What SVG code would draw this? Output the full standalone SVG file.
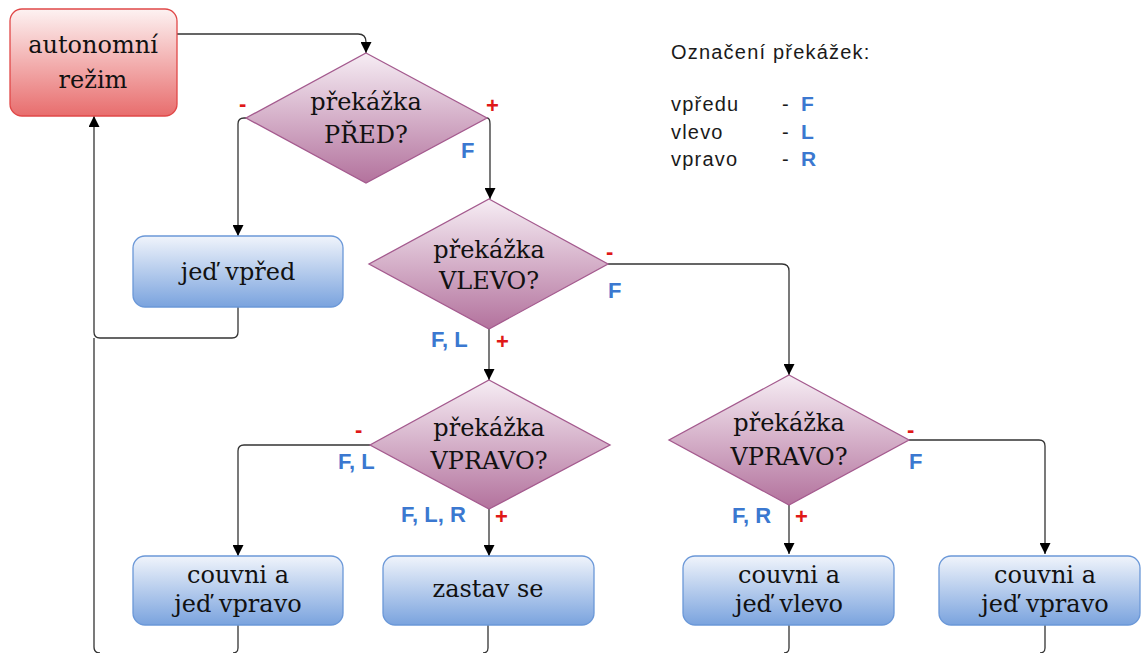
<svg xmlns="http://www.w3.org/2000/svg" width="1141" height="653" viewBox="0 0 1141 653">
<defs>
<linearGradient id="gRed" x1="0" y1="0" x2="0" y2="1">
<stop offset="0" stop-color="#fdf2f2"/><stop offset="1" stop-color="#e86d6d"/>
</linearGradient>
<linearGradient id="gBlue" x1="0" y1="0" x2="0" y2="1">
<stop offset="0" stop-color="#f0f4fb"/><stop offset="1" stop-color="#7aa3de"/>
</linearGradient>
<linearGradient id="gPurple" x1="0" y1="0" x2="0" y2="1">
<stop offset="0" stop-color="#f6edf4"/><stop offset="1" stop-color="#b3729d"/>
</linearGradient>
<marker id="arr" viewBox="0 0 10 10" refX="10" refY="5" markerWidth="11" markerHeight="11" markerUnits="userSpaceOnUse" orient="auto">
<path d="M0,0 L10,5 L0,10 Z" fill="#000"/>
</marker>
<style>
.red{fill:url(#gRed);stroke:#e04848;stroke-width:1.3}
.blue{fill:url(#gBlue);stroke:#6b98d8;stroke-width:1.3}
.dia{fill:url(#gPurple);stroke:#a45a8e;stroke-width:1.3}
.t{font-family:"DejaVu Serif","Liberation Serif",serif;font-size:24px;fill:#111;text-anchor:middle}
.c{fill:none;stroke:#333;stroke-width:1.3}
.ca{fill:none;stroke:#333;stroke-width:1.3;marker-end:url(#arr)}
.lb{font-family:"Liberation Sans",Arial,sans-serif;font-weight:bold;font-size:22px;fill:#3b78d0}
.pm{font-family:"Liberation Sans",Arial,sans-serif;font-weight:bold;font-size:22px;fill:#e01818}
.lg{font-family:"Liberation Sans",Arial,sans-serif;font-size:20px;fill:#1a1a1a;letter-spacing:1.2px}
.lgb{font-family:"Liberation Sans",Arial,sans-serif;font-weight:bold;font-size:21px;fill:#3b78d0}
</style>
</defs>
<rect width="1141" height="653" fill="#fff"/>

<g id="connectors">
<path class="ca" d="M177,34 H358 Q366,34 366,42 V53"/>
<path class="ca" d="M246,118 H244 Q238,118 238,124 V236"/>
<path class="ca" d="M487,118 Q490,118 490,124 V199"/>
<path class="ca" d="M238,307 V332 Q238,338 232,338 H100 Q94,338 94,332 V116"/>
<path class="c" d="M94,338 V647 Q94,653 100,653"/>
<path class="ca" d="M608,264 H782 Q789,264 789,271 V375"/>
<path class="ca" d="M489,329 V380"/>
<path class="ca" d="M370,445 H244 Q238,445 238,451 V556"/>
<path class="ca" d="M489,509 V556"/>
<path class="ca" d="M789,505 V554"/>
<path class="ca" d="M909,440 H1039 Q1045,440 1045,446 V554"/>
<path class="c" d="M238,625 V648 Q238,653 233,653"/>
<path class="c" d="M488,625 V648 Q488,653 483,653"/>
<path class="c" d="M789,625 V648 Q789,653 784,653"/>
<path class="c" d="M1045,625 V648 Q1045,653 1040,653"/>
</g>

<g id="n-autonomni">
<rect class="red" x="10" y="9" width="167" height="107" rx="12"/>
<text class="t" x="93" y="53">autonomní</text>
<text class="t" x="93" y="88">režim</text>
</g>

<g id="n-pred">
<polygon class="dia" points="366,53 487,118 366,183 246,118"/>
<text class="t" x="366" y="110">překážka</text>
<text class="t" x="366" y="143">PŘED?</text>
</g>

<g id="n-jed-vpred">
<rect class="blue" x="133" y="236" width="210" height="71" rx="12"/>
<text class="t" x="238" y="280">jeď vpřed</text>
</g>

<g id="n-vlevo">
<polygon class="dia" points="489,199 608,264 489,329 369,264"/>
<text class="t" x="489" y="258">překážka</text>
<text class="t" x="489" y="289">VLEVO?</text>
</g>

<g id="n-vpravo1">
<polygon class="dia" points="489,380 610,445 489,509 370,445"/>
<text class="t" x="489" y="436">překážka</text>
<text class="t" x="489" y="469">VPRAVO?</text>
</g>

<g id="n-vpravo2">
<polygon class="dia" points="789,375 909,440 789,505 669,440"/>
<text class="t" x="789" y="431">překážka</text>
<text class="t" x="789" y="465">VPRAVO?</text>
</g>

<g id="n-couvni-vpravo1">
<rect class="blue" x="133" y="556" width="210" height="69" rx="12"/>
<text class="t" x="238" y="583">couvni a</text>
<text class="t" x="238" y="612">jeď vpravo</text>
</g>

<g id="n-zastav">
<rect class="blue" x="383" y="556" width="211" height="69" rx="12"/>
<text class="t" x="488" y="597">zastav se</text>
</g>

<g id="n-couvni-vlevo">
<rect class="blue" x="683" y="556" width="211" height="69" rx="12"/>
<text class="t" x="789" y="583">couvni a</text>
<text class="t" x="789" y="612">jeď vlevo</text>
</g>

<g id="n-couvni-vpravo2">
<rect class="blue" x="939" y="556" width="201" height="69" rx="12"/>
<text class="t" x="1045" y="583">couvni a</text>
<text class="t" x="1045" y="612">jeď vpravo</text>
</g>

<g id="labels">
<text class="pm" x="239" y="111">-</text>
<text class="pm" x="486" y="113">+</text>
<text class="lb" x="461" y="158">F</text>
<text class="pm" x="606" y="259">-</text>
<text class="lb" x="608" y="298">F</text>
<text class="lb" x="431" y="347">F, L</text>
<text class="pm" x="496" y="349">+</text>
<text class="pm" x="355" y="437">-</text>
<text class="lb" x="338" y="469">F, L</text>
<text class="lb" x="401" y="522">F, L, R</text>
<text class="pm" x="495" y="524">+</text>
<text class="pm" x="907" y="437">-</text>
<text class="lb" x="909" y="469">F</text>
<text class="lb" x="732" y="523">F, R</text>
<text class="pm" x="795" y="524">+</text>
</g>

<g id="legend">
<text class="lg" x="671" y="59">Označení překážek:</text>
<text class="lg" x="671" y="111">vpředu</text>
<text class="lg" x="671" y="139">vlevo</text>
<text class="lg" x="671" y="166">vpravo</text>
<text class="lg" x="782" y="111">-</text>
<text class="lg" x="782" y="139">-</text>
<text class="lg" x="782" y="166">-</text>
<text class="lgb" x="801" y="111">F</text>
<text class="lgb" x="801" y="139">L</text>
<text class="lgb" x="801" y="166">R</text>
</g>
</svg>
